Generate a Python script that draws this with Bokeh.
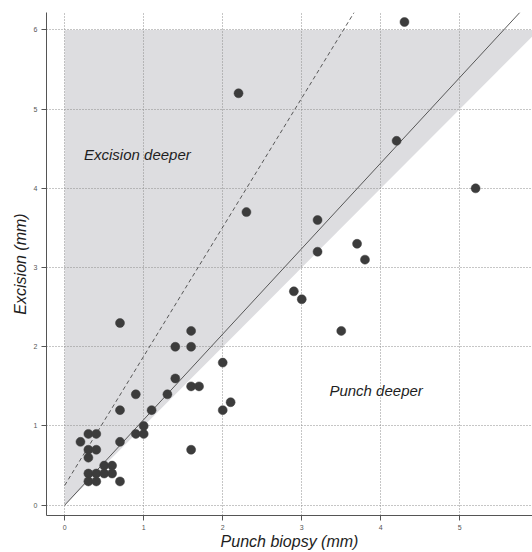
import math
from bokeh.plotting import figure
from bokeh.models import Range1d, FixedTicker, Label
from bokeh.embed import file_html
from bokeh.resources import INLINE

# ---- data ----
punch_biopsy = [0.2, 0.3, 0.4, 0.3, 0.4, 0.3, 0.3, 0.4, 0.5, 0.6, 0.5, 0.6, 0.3, 0.4,
                0.7, 0.7, 0.7, 0.7, 0.9, 1.0, 1.0, 0.9, 1.1, 1.3, 1.4, 1.4, 1.6, 1.6,
                1.6, 1.7, 1.6, 2.0, 2.0, 2.1, 2.2, 2.3, 2.9, 3.0, 3.2, 3.2, 3.5, 3.7,
                3.8, 4.2, 4.3, 5.2]
excision = [0.8, 0.9, 0.9, 0.7, 0.7, 0.6, 0.4, 0.4, 0.4, 0.4, 0.5, 0.5, 0.3, 0.3,
            0.3, 0.8, 1.2, 2.3, 0.9, 0.9, 1.0, 1.4, 1.2, 1.4, 1.6, 2.0, 2.0, 2.2,
            1.5, 1.5, 0.7, 1.8, 1.2, 1.3, 5.2, 3.7, 2.7, 2.6, 3.6, 3.2, 2.2, 3.3,
            3.1, 4.6, 6.1, 4.0]

x_ticks = [0, 1, 2, 3, 4, 5]
y_ticks = [0, 1, 2, 3, 4, 5, 6]

# shaded "excision deeper" zone (above identity line, below 6 mm)
shade_x = [0, 0, 6]
shade_y = [0, 6, 6]

# fitted lines
solid_intercept, solid_slope = 0.0, 1.08
dashed_intercept, dashed_slope = 0.25, 1.63

X_MIN, X_MAX = -0.23, 5.92
Y_MIN, Y_MAX = -0.13, 6.22

p = figure(width=532, height=552, output_backend="svg", toolbar_location=None,
           x_range=Range1d(X_MIN, X_MAX), y_range=Range1d(Y_MIN, Y_MAX),
           min_border_left=46, min_border_right=0, min_border_top=12,
           min_border_bottom=20)
p.outline_line_color = None
p.background_fill_color = "white"
p.border_fill_color = "white"

# shaded area drawn beneath the grid
p.patch(shade_x, shade_y, fill_color="#dddde0", line_color=None, level="image")

# grid
for g, t in ((p.xgrid, x_ticks), (p.ygrid, y_ticks)):
    g.ticker = FixedTicker(ticks=t)
    g.grid_line_color = "#8c8c8c"
    g.grid_line_dash = "1 2"
    g.grid_line_width = 1

# axes
p.xaxis.ticker = FixedTicker(ticks=x_ticks)
p.yaxis.ticker = FixedTicker(ticks=y_ticks)
for ax in (p.xaxis[0], p.yaxis[0]):
    ax.axis_line_color = "#555555"
    ax.axis_line_width = 1
    ax.major_tick_line_color = "#555555"
    ax.major_tick_in = 0
    ax.major_tick_out = 5
    ax.minor_tick_line_color = None
    ax.major_label_text_font = "Liberation Sans"
    ax.major_label_text_font_size = "7px"
    ax.major_label_text_color = "#555555"
    ax.major_label_standoff = 4
    ax.axis_label_text_font = "Liberation Sans"
    ax.axis_label_text_font_style = "italic"
    ax.axis_label_text_font_size = "16px"
    ax.axis_label_text_color = "#1e1e1e"
p.xaxis.axis_label = "Punch biopsy (mm)"
p.yaxis.axis_label = "Excision (mm)"
p.xaxis.axis_label_standoff = 0
p.yaxis.axis_label_standoff = 2

# lines
sx_end = (Y_MAX - solid_intercept) / solid_slope
p.line([0, sx_end], [solid_intercept, solid_intercept + solid_slope * sx_end],
       line_color="#474747", line_width=0.9)
dx_end = (Y_MAX - dashed_intercept) / dashed_slope
p.line([0, dx_end], [dashed_intercept, dashed_intercept + dashed_slope * dx_end],
       line_color="#474747", line_width=0.9, line_dash="4 3")

# points
p.scatter(punch_biopsy, excision, size=9, fill_color="#3c3c3c", line_color="#3c3c3c",
          line_width=0.5)

# in-plot texts
p.add_layout(Label(x=0.245, y=4.43, text="Excision deeper", text_font="Liberation Sans",
                   text_font_style="italic", text_font_size="15px", text_color="#1e1e1e",
                   text_baseline="alphabetic", text_align="left"))
p.add_layout(Label(x=3.35, y=1.447, text="Punch deeper", text_font="Liberation Sans",
                   text_font_style="italic", text_font_size="15px", text_color="#1e1e1e",
                   text_baseline="alphabetic", text_align="left"))

open("out.html", "w").write(file_html(p, INLINE))
